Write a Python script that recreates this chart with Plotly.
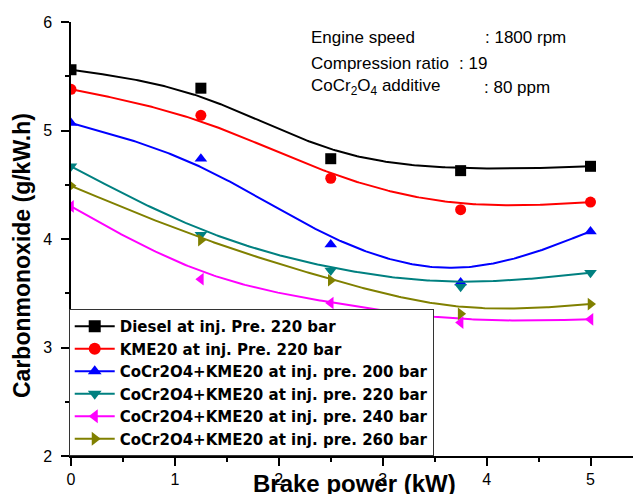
import numpy as np
import plotly.graph_objects as go

# ---- data ----
brake_power = [0, 1.25, 2.5, 3.75, 5]
diesel_220 = [5.56, 5.39, 4.74, 4.63, 4.67]
kme20_220 = [5.38, 5.14, 4.56, 4.27, 4.34]
cocr_kme20_200 = [5.07, 4.74, 3.95, 3.60, 4.07]
cocr_kme20_220 = [4.67, 4.04, 3.71, 3.56, 3.69]
cocr_kme20_240 = [4.30, 3.63, 3.41, 3.23, 3.26]
cocr_kme20_260 = [4.49, 3.99, 3.62, 3.31, 3.40]

series_names = [
    "Diesel at inj. Pre. 220 bar",
    "KME20 at inj. Pre. 220 bar",
    "CoCr2O4+KME20 at inj. pre. 200 bar",
    "CoCr2O4+KME20 at inj. pre. 220 bar",
    "CoCr2O4+KME20 at inj. pre. 240 bar",
    "CoCr2O4+KME20 at inj. pre. 260 bar",
]
series_values = [diesel_220, kme20_220, cocr_kme20_200,
                 cocr_kme20_220, cocr_kme20_240, cocr_kme20_260]
colors = ["#000000", "#ff0000", "#0000ff", "#008080", "#ff00ff", "#808000"]
symbols = ["square", "circle", "triangle-up", "triangle-down",
           "triangle-left", "triangle-right"]

x_ticks = [0, 1, 2, 3, 4, 5]
y_ticks = [2, 3, 4, 5, 6]


def bspline(xs, ys, n_seg=60):
    """Uniform cubic B-spline with the data points as control points
    (end points tripled so the curve starts/ends on them) -- the
    'B-Spline' line connection of the original plot."""
    cx = np.asarray(xs, float)
    cy = np.asarray(ys, float)
    px = np.concatenate([[cx[0]] * 2, cx, [cx[-1]] * 2])
    py = np.concatenate([[cy[0]] * 2, cy, [cy[-1]] * 2])
    t = np.linspace(0, 1, n_seg)
    b0 = (1 - t) ** 3 / 6
    b1 = (3 * t ** 3 - 6 * t ** 2 + 4) / 6
    b2 = (-3 * t ** 3 + 3 * t ** 2 + 3 * t + 1) / 6
    b3 = t ** 3 / 6
    ox, oy = [], []
    for i in range(len(px) - 3):
        ox.append(b0 * px[i] + b1 * px[i + 1] + b2 * px[i + 2] + b3 * px[i + 3])
        oy.append(b0 * py[i] + b1 * py[i + 1] + b2 * py[i + 2] + b3 * py[i + 3])
    return np.concatenate(ox), np.concatenate(oy)


fig = go.Figure()

for name, vals, col, sym in zip(series_names, series_values, colors, symbols):
    sx, sy = bspline(brake_power, vals)
    fig.add_trace(go.Scatter(x=sx, y=sy, mode="lines",
                             line=dict(color=col, width=2),
                             showlegend=False, hoverinfo="skip"))
    fig.add_trace(go.Scatter(x=brake_power, y=vals, mode="markers",
                             marker=dict(color=col, symbol=sym, size=11),
                             showlegend=False, name=name))
    # legend entry (line + marker)
    fig.add_trace(go.Scatter(x=[None], y=[None], mode="lines+markers",
                             line=dict(color=col, width=2),
                             marker=dict(color=col, symbol=sym, size=12),
                             name=name, showlegend=True))

# the page body keeps its default 8 px margin, so the figure is 8 px smaller
W, H = 633, 486
ml, mr, mt, mb = 63, 0, 14, 38
pw = W - ml - mr
ph = H - mt - mb
xmax = pw / 103.9
PL = 71  # plot-area left edge in page pixels
PB = 456  # plot-area bottom edge in page pixels

fig.update_layout(
    template="none",
    width=W, height=H,
    margin=dict(l=ml, r=mr, t=mt, b=mb, autoexpand=False),
    paper_bgcolor="white", plot_bgcolor="white",
    font=dict(family="Liberation Sans, Arial, sans-serif", color="black", size=16),
    showlegend=True,
    legend=dict(x=-0.004, y=0, xanchor="left", yanchor="bottom",
                bgcolor="white", bordercolor="#333333", borderwidth=1,
                font=dict(family="DejaVu Sans", size=15, color="black", weight="bold"),
                itemwidth=40, tracegroupgap=0),
    xaxis=dict(range=[0, xmax], tickvals=x_ticks, ticktext=[str(v) for v in x_ticks],
               showline=True, linecolor="black", linewidth=1.5, automargin=False,
               ticks="outside", ticklen=8, tickwidth=1.5, tickcolor="black",
               minor=dict(dtick=0.5, ticks="outside", ticklen=4, tickwidth=1.5,
                          tickcolor="black"),
               showgrid=False, zeroline=False, ticklabelstandoff=0,
               tickfont=dict(size=16)),
    yaxis=dict(range=[2, 6], tickvals=y_ticks, ticktext=[str(v) for v in y_ticks],
               showline=True, linecolor="black", linewidth=1.5, automargin=False,
               ticks="outside", ticklen=8, tickwidth=1.5, tickcolor="black",
               minor=dict(dtick=0.5, ticks="outside", ticklen=4, tickwidth=1.5,
                          tickcolor="black"),
               showgrid=False, zeroline=False, ticklabelstandoff=6,
               tickfont=dict(size=16)),
)

# axis titles placed as in the reference
fig.add_annotation(text="<b>Brake power (kW)</b>", xref="x", yref="paper",
                   x=(354 - PL) / 103.9, y=(PB - 483) / ph,
                   xanchor="center", yanchor="middle", showarrow=False,
                   font=dict(size=24))
fig.add_annotation(text="<b>Carbonmonoxide (g/kW.h)</b>", xref="paper", yref="paper",
                   x=(22 - PL) / pw, y=(PB - 256) / ph, textangle=-90,
                   xanchor="center", yanchor="middle", showarrow=False,
                   font=dict(size=23))

# conditions text
cond_labels = ["Engine speed", "Compression ratio", "CoCr<sub>2</sub>O<sub>4</sub> additive"]
cond_values = [": 1800 rpm", ": 19", ": 80 ppm"]
label_y = [5.853, 5.613, 5.40]
value_x = [3.965, 3.714, 3.955]
for lab, val, yy, vx in zip(cond_labels, cond_values, label_y, value_x):
    fig.add_annotation(text=lab, x=2.29, y=yy, xref="x", yref="y",
                       xanchor="left", yanchor="middle", showarrow=False,
                       font=dict(size=17))
    fig.add_annotation(text=val, x=vx, y=yy, xref="x", yref="y",
                       xanchor="left", yanchor="middle", showarrow=False,
                       font=dict(size=17))

fig.write_html("out.html")
